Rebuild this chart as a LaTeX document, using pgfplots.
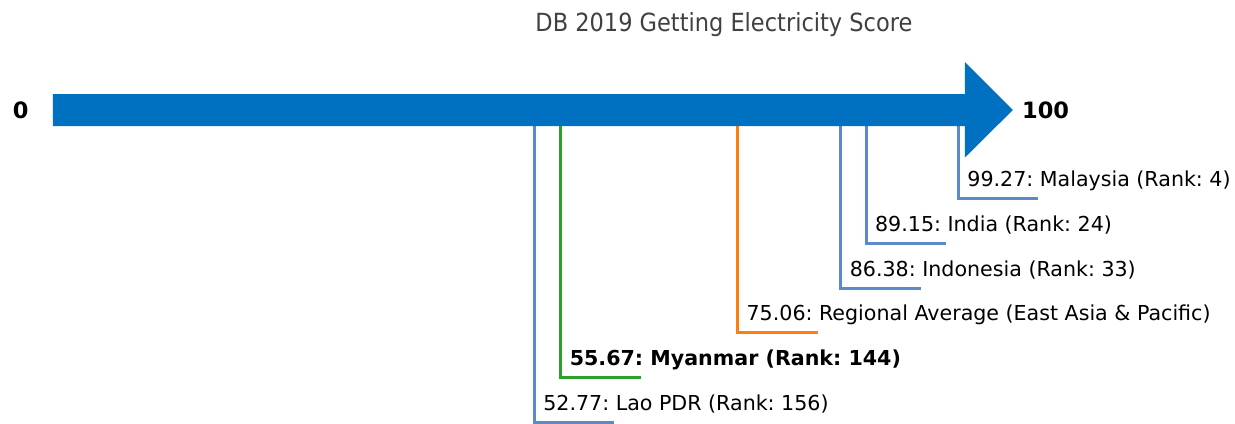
\documentclass[border=0pt]{standalone}
\usepackage{pgfplots}
\pgfplotsset{compat=1.18}
\usepackage{fontspec}
\setmainfont{DejaVu Sans}
\newfontfamily\condfont{DejaVu Sans Condensed}
\frenchspacing

\definecolor{arrowblue}{HTML}{0070C0}
\definecolor{leadblue}{HTML}{5B8AC8}
\definecolor{leadgreen}{HTML}{2CA02C}
\definecolor{leadorange}{HTML}{FF7F0E}
\definecolor{titlegray}{HTML}{404040}

\tikzset{lbl/.style={inner sep=0pt, outer sep=0pt, anchor=base west}}

\begin{document}
\begin{tikzpicture}
\begin{axis}[
    scale only axis,
    width=1235pt, height=423pt,
    xmin=-5.811, xmax=129.61,
    ymin=0, ymax=423,
    y dir=reverse,
    hide axis,
    clip=false,
]
% leader lines: value, from arrow down to level, then right
\addplot[leadblue, line width=3pt] coordinates {(52.77,126) (52.77,422) (61.54,422)};
\addplot[leadgreen, line width=3pt] coordinates {(55.67,126) (55.67,377) (64.44,377)};
\addplot[leadorange, line width=3pt] coordinates {(75.06,126) (75.06,332) (83.83,332)};
\addplot[leadblue, line width=3pt] coordinates {(86.38,126) (86.38,288) (95.15,288)};
\addplot[leadblue, line width=3pt] coordinates {(89.15,126) (89.15,243) (97.92,243)};
\addplot[leadblue, line width=3pt] coordinates {(99.27,126) (99.27,198) (108.04,198)};

% the arrow
\addplot[fill=arrowblue, draw=none] coordinates {
    (0,94) (100,94) (100,62) (105.25,110) (100,157.5) (100,126) (0,126)} -- cycle;

% labels
\fontsize{20.6}{24}\selectfont
\node[lbl] at (axis cs:53.77,410.5) {52.77: Lao PDR (Rank: 156)};
\node[lbl] at (axis cs:56.67,365.5) {\bfseries 55.67: Myanmar (Rank: 144)};
\node[lbl] at (axis cs:76.06,320.5) {75.06: Regional Average (East Asia \& Pacific)};
\node[lbl] at (axis cs:87.38,276.5) {86.38: Indonesia (Rank: 33)};
\node[lbl] at (axis cs:90.15,231.5) {89.15: India (Rank: 24)};
\node[lbl] at (axis cs:100.27,186.5) {99.27: Malaysia (Rank: 4)};

\node[inner sep=0pt, anchor=center, font=\fontsize{22.5}{26}\selectfont\bfseries] at (axis cs:-3.54,110) {0};
\node[inner sep=0pt, anchor=west, font=\fontsize{22.5}{26}\selectfont\bfseries] at (axis cs:106.25,110) {100};

\node[inner sep=0pt, anchor=center, text=titlegray, font=\condfont\fontsize{25}{30}\selectfont] at (axis cs:73.57,25) {DB 2019 Getting Electricity Score};
\end{axis}
\pgfresetboundingbox
\path (current axis.south west) rectangle (current axis.north east);
\end{tikzpicture}
\end{document}
